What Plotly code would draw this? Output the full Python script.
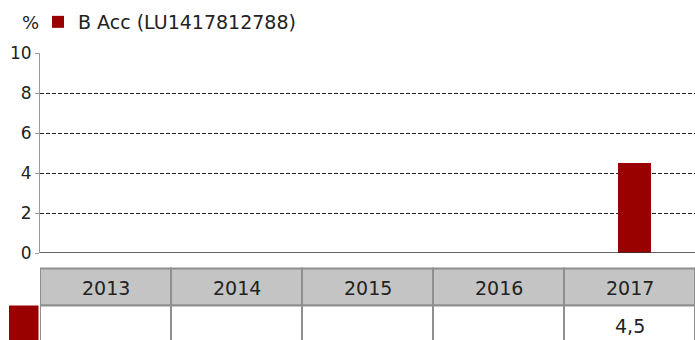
import plotly.graph_objects as go

# ---- data ----
years = ["2013", "2014", "2015", "2016", "2017"]
values = [None, None, None, None, 4.5]
series_name = "B Acc (LU1417812788)"
y_ticks = [0, 2, 4, 6, 8, 10]
unit_label = "%"

RED = "#990000"
HEADER_FILL = "#c4c4c4"
BORDER = "#8f8f8f"
TEXT = "#222222"
FONT = "DejaVu Sans"

W, H = 695, 340
L = 40
T = 53
paper_w = W - L
paper_h = H - T
y0_px = 253
dom_bottom = (H - y0_px) / paper_h


def py(px):
    return (H - px) / paper_h


def pxx(px):
    return (px - L) / paper_w


fig = go.Figure()
fig.add_trace(go.Bar(
    x=list(range(len(years))), y=values, name=series_name,
    marker=dict(color=RED, line=dict(width=0)),
    width=0.25, offset=-0.088, showlegend=True,
))

shapes = []
annotations = []
hdr_top, hdr_bot = py(268.5), py(305.5)
row_bot = py(345)
for i, yr in enumerate(years):
    shapes.append(dict(type="rect", xref="x", yref="paper", x0=i - 0.5, x1=i + 0.5,
                       y0=hdr_bot, y1=hdr_top, fillcolor=HEADER_FILL,
                       line=dict(color=BORDER, width=2), layer="below"))
    shapes.append(dict(type="rect", xref="x", yref="paper", x0=i - 0.5, x1=i + 0.5,
                       y0=row_bot, y1=hdr_bot, fillcolor="white",
                       line=dict(color=BORDER, width=2), layer="below"))
    annotations.append(dict(x=i, y=py(288), xref="x", yref="paper",
                            text=yr, showarrow=False, yanchor="middle",
                            font=dict(family=FONT, size=19, color=TEXT)))
    v = values[i]
    if v is not None:
        annotations.append(dict(x=i, y=py(326), xref="x", yref="paper",
                                text=f"{v:.1f}".replace(".", ","), showarrow=False,
                                yanchor="middle",
                                font=dict(family=FONT, size=19, color=TEXT)))

shapes.append(dict(type="rect", xref="paper", yref="paper",
                   x0=pxx(9), x1=pxx(38.5), y0=row_bot, y1=hdr_bot,
                   fillcolor=RED, line=dict(width=0), layer="above"))
shapes.append(dict(type="line", xref="paper", yref="y", x0=0, x1=1, y0=0, y1=0,
                   line=dict(color="#333333", width=1.5)))

annotations.append(dict(x=pxx(20), y=py(22), xref="paper", yref="paper", text=unit_label,
                        showarrow=False, yanchor="middle",
                        font=dict(family=FONT, size=18, color=TEXT)))

fig.update_layout(
    width=W, height=H,
    margin=dict(l=L, r=0, t=T, b=0, autoexpand=False),
    plot_bgcolor="white", paper_bgcolor="white",
    font=dict(family=FONT, size=17, color=TEXT),
    shapes=shapes, annotations=annotations,
    showlegend=True,
    legend=dict(orientation="h", xref="container", yref="container",
                x=38 / W, xanchor="left", y=(H - 22) / H, yanchor="middle",
                font=dict(family=FONT, size=19, color=TEXT), bgcolor="rgba(0,0,0,0)",
                itemclick=False),
    xaxis=dict(range=[-0.5, 4.5], showticklabels=False, showgrid=False,
               zeroline=False, showline=False, ticks="", fixedrange=True),
    yaxis=dict(range=[0, 10], domain=[dom_bottom, 1], tickvals=y_ticks,
               showgrid=True, gridcolor="#222222", griddash="4px,2px", gridwidth=1,
               zeroline=False, showline=True, linecolor="#999999", linewidth=1,
               ticks="outside", ticklen=4, tickcolor="#999999", automargin=False,
               tickfont=dict(family=FONT, size=17, color=TEXT), fixedrange=True),
    bargap=0,
)

fig.write_html("out.html", config={"displayModeBar": False},
               post_script="document.body.style.margin='0';document.body.style.overflow='hidden';")
